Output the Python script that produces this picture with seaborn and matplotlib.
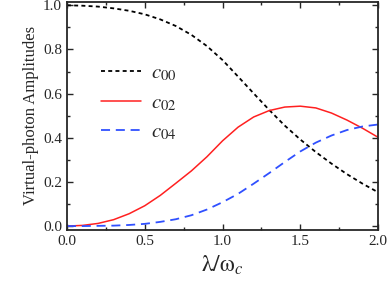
import numpy as np
import pandas as pd
import seaborn as sns
import matplotlib
matplotlib.use("Agg")
import matplotlib.pyplot as plt
from matplotlib.ticker import MultipleLocator

lam = [0.0, 0.1, 0.2, 0.3, 0.4, 0.5, 0.6, 0.7, 0.8, 0.9, 1.0,
       1.1, 1.2, 1.3, 1.4, 1.5, 1.6, 1.7, 1.8, 1.9, 2.0]
c00 = [1.0, 0.998, 0.994, 0.986, 0.975, 0.959, 0.936, 0.906, 0.866, 0.815, 0.752,
       0.677, 0.601, 0.526, 0.455, 0.392, 0.335, 0.283, 0.235, 0.192, 0.153]
c02 = [0.0, 0.003, 0.012, 0.029, 0.056, 0.092, 0.139, 0.194, 0.25, 0.314, 0.386,
       0.448, 0.494, 0.523, 0.539, 0.543, 0.535, 0.512, 0.48, 0.443, 0.402]
c04 = [0.0, 0.0, 0.001, 0.002, 0.005, 0.01, 0.019, 0.031, 0.049, 0.075, 0.108,
       0.146, 0.192, 0.24, 0.29, 0.338, 0.378, 0.41, 0.435, 0.451, 0.46]
labels = [r"$c_{00}$", r"$c_{02}$", r"$c_{04}$"]
colors = ["black", "#ff2020", "#3050ff"]

sns.set_style("ticks")
plt.rcParams['font.family'] = 'serif'
plt.rcParams['font.serif'] = ['Liberation Serif', 'DejaVu Serif']
plt.rcParams['mathtext.fontset'] = 'stix'

fig = plt.figure(figsize=(3.87, 2.89), dpi=100)
ax = fig.add_axes([0.173, 0.204, 0.804, 0.79])

df = pd.DataFrame({"lam": lam, "c00": c00, "c02": c02, "c04": c04})
styles = [dict(dashes=(2.2, 1.8), lw=1.3), dict(lw=1.1), dict(dashes=(5, 3.2), lw=1.3)]
for col, lab, colr, st in zip(["c00", "c02", "c04"], labels, colors, styles):
    sns.lineplot(data=df, x="lam", y=col, ax=ax, color=colr, label=lab, lw=st["lw"])
    if "dashes" in st:
        ax.lines[-1].set_dashes(st["dashes"])

ax.set_xlim(0.0, 2.0)
ax.set_ylim(-0.018, 1.016)
ax.xaxis.set_minor_locator(MultipleLocator(0.25))
ax.yaxis.set_minor_locator(MultipleLocator(0.1))
ax.set_xticks([0.0, 0.5, 1.0, 1.5, 2.0])
ax.set_xticklabels(["0.0", "0.5", "1.0", "1.5", "2.0"])
ax.set_yticks([0.0, 0.2, 0.4, 0.6, 0.8, 1.0])
ax.set_yticklabels(["0.0", "0.2", "0.4", "0.6", "0.8", "1.0"])
ax.tick_params(which='both', direction='in', top=True, right=True, labelsize=11, width=1.0)
ax.tick_params(which='major', length=4)
ax.tick_params(which='minor', length=2.5)
for s in ax.spines.values():
    s.set_linewidth(1.3)

ax.set_xlabel(r"$\mathrm{\lambda/\omega}_c$", fontsize=17, labelpad=4)
ax.set_ylabel("Virtual-photon Amplitudes", fontsize=12, labelpad=3)

leg = ax.legend(loc='upper left', bbox_to_anchor=(0.05, 0.81), frameon=False,
                fontsize=15, labelspacing=0.48, handlelength=1.9, handletextpad=0.5)

fig.savefig("out.png", dpi=100)
